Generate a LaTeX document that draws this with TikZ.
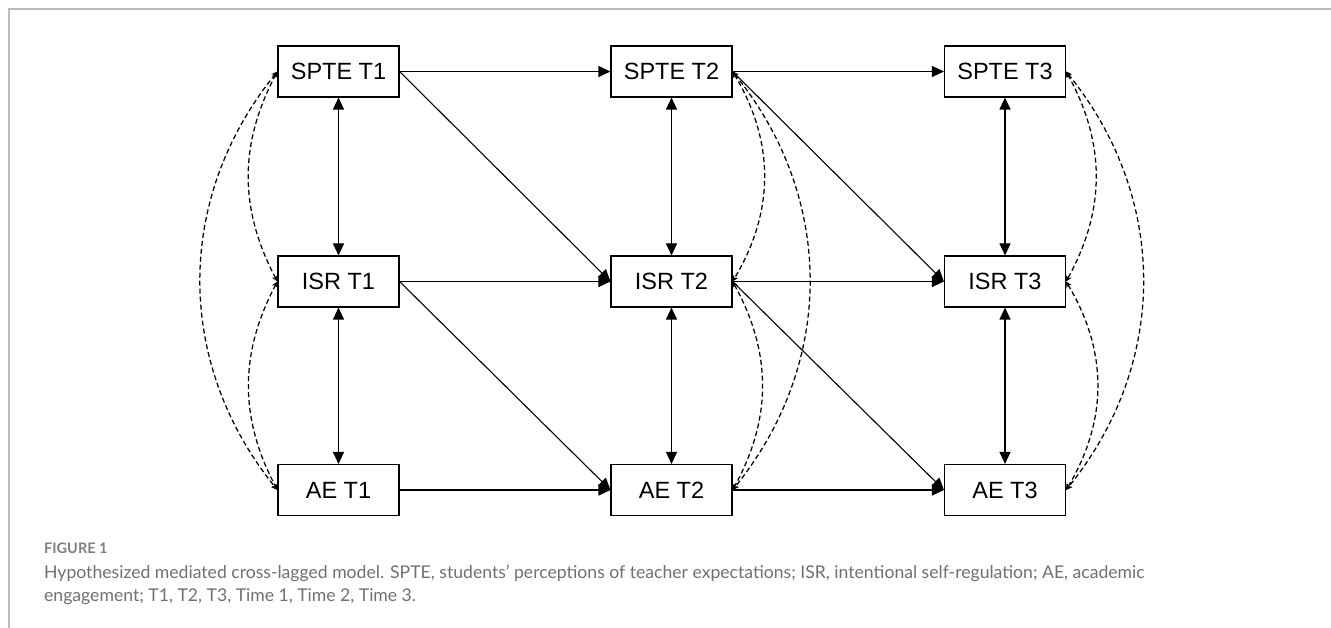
\documentclass[tikz,border=0pt]{standalone}
\usepackage{fontspec}
\setmainfont{Liberation Sans}
\newfontfamily\capfont{Lato}
\usetikzlibrary{arrows.meta}
\definecolor{framegray}{HTML}{BBBBBB}
\definecolor{capgray}{HTML}{707070}
\definecolor{figgray}{HTML}{808080}
\begin{document}
\begin{tikzpicture}[x=1pt,y=-1pt,
  box/.style={draw, line width=1.1pt, minimum width=121pt, minimum height=51pt, inner sep=0pt, font=\fontsize{23.5}{27}\selectfont},
  path/.style={line width=1.1pt, -{Triangle[length=12pt,width=11pt]}},
  both/.style={line width=1.1pt, {Triangle[length=12pt,width=11pt]}-{Triangle[length=12pt,width=11pt]}},
  cov/.style={line width=1.25pt, dash pattern=on 5pt off 3pt, {Stealth[length=6pt,width=6pt]}-{Stealth[length=6pt,width=6pt]}}
]
\useasboundingbox (0,0) rectangle (1331,628);
\draw[framegray, line width=1.5pt] (9,628) -- (9,9) -- (1331,9);

\node[box] (S1) at (338.5,71.5) {SPTE T1};
\node[box] (I1) at (338.5,281.5) {ISR T1};
\node[box] (A1) at (338.5,490) {AE T1};
\node[box] (S2) at (671.5,71.5) {SPTE T2};
\node[box] (I2) at (671.5,281.5) {ISR T2};
\node[box] (A2) at (671.5,490) {AE T2};
\node[box] (S3) at (1005,71.5) {SPTE T3};
\node[box] (I3) at (1005,281.5) {ISR T3};
\node[box] (A3) at (1005,490) {AE T3};

% autoregressive paths
\draw[path] (S1.east) -- (S2.west);
\draw[path] (S2.east) -- (S3.west);
\draw[path] (I1.east) -- (I2.west);
\draw[path] (I2.east) -- (I3.west);
\draw[path] (A1.east) -- (A2.west);
\draw[path] (A2.east) -- (A3.west);
% cross-lagged paths
\draw[path] (S1.east) -- (I2.west);
\draw[path] (I1.east) -- (A2.west);
\draw[path] (S2.east) -- (I3.west);
\draw[path] (I2.east) -- (A3.west);
% within-time covariances
\foreach \c in {1,2,3}{
  \draw[both] (S\c.south) -- (I\c.north);
  \draw[both] (I\c.south) -- (A\c.north);
}
% residual correlations
\draw[cov] (S1.west) to[bend right=28] (I1.west);
\draw[cov] (S1.west) to[bend right=39] (A1.west);
\draw[cov] (I1.west) to[bend right=28] (A1.west);
\draw[cov] (S2.east) to[bend left=31] (I2.east);
\draw[cov] (S2.east) to[bend left=39] (A2.east);
\draw[cov] (I2.east) to[bend left=29] (A2.east);
\draw[cov] (S3.east) to[bend left=29] (I3.east);
\draw[cov] (S3.east) to[bend left=39] (A3.east);
\draw[cov] (I3.east) to[bend left=31] (A3.east);

% caption
\node[anchor=base west, inner sep=0pt, text=figgray, font=\capfont\bfseries\fontsize{14.5}{17}\selectfont] (fig) at (44,553) {FIGURE 1};
\node[anchor=base west, inner sep=0pt, text=capgray, font=\capfont\fontsize{17.6}{22}\selectfont] (cap1) at (44,578) {Hypothesized mediated cross-lagged model. SPTE, students’ perceptions of teacher expectations; ISR, intentional self-regulation; AE, academic};
\node[anchor=base west, inner sep=0pt, text=capgray, font=\capfont\fontsize{17.6}{22}\selectfont] (cap2) at (44,601) {engagement; T1, T2, T3, Time 1, Time 2, Time 3.};
\end{tikzpicture}
\end{document}
